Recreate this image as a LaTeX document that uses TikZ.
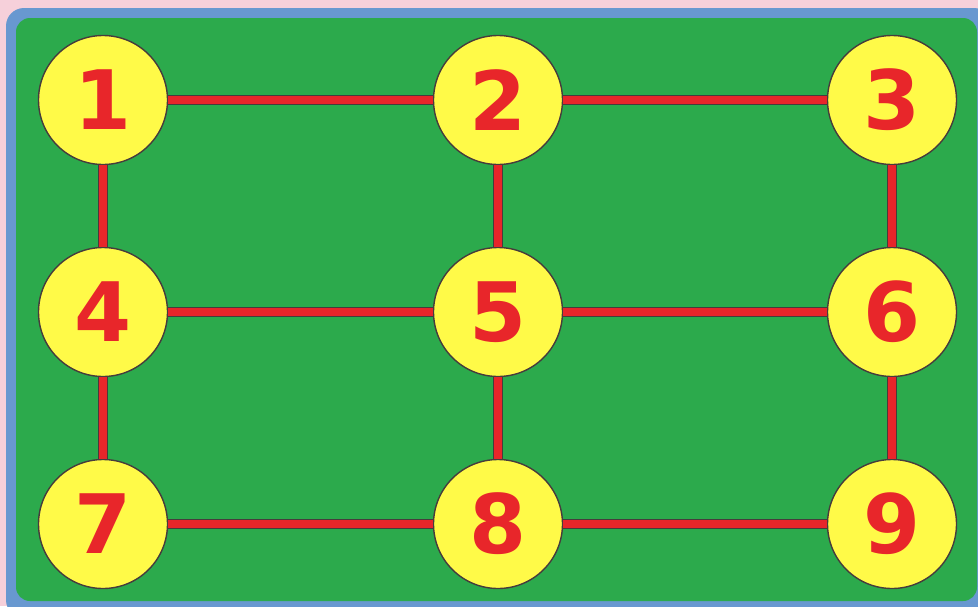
\documentclass[tikz,border=0pt]{standalone}
\usepackage{fontspec}
\newfontfamily\numfont{DejaVu Sans}
\definecolor{bgpink}{RGB}{246,208,218}
\definecolor{frameblue}{RGB}{104,152,208}
\definecolor{boardgreen}{RGB}{44,170,76}
\definecolor{discyellow}{RGB}{255,250,72}
\definecolor{numred}{RGB}{232,38,42}
\definecolor{edgedark}{RGB}{70,60,60}
\tikzset{
  disc/.style={circle, draw=edgedark, line width=1.4pt, fill=discyellow,
    minimum size=129pt, inner sep=0pt, text=numred,
    font=\numfont\bfseries\fontsize{82}{82}\selectfont},
  link/.style={draw=edgedark, line width=0.9pt, double=numred, double distance=7.5pt}
}
\begin{document}
\begin{tikzpicture}[x=1pt,y=-1pt]
\useasboundingbox (0,0) rectangle (978,606);
\fill[bgpink] (0,0) rectangle (978,606);
\fill[frameblue, rounded corners=18pt] (6,8) rectangle (992,618);
\fill[boardgreen, rounded corners=14pt] (16,18) rectangle (977,601);
\node[disc] (n1) at (103,100) {1};
\node[disc] (n2) at (498,100) {2};
\node[disc] (n3) at (892,100) {3};
\node[disc] (n4) at (103,312) {4};
\node[disc] (n5) at (498,312) {5};
\node[disc] (n6) at (892,312) {6};
\node[disc] (n7) at (103,524) {7};
\node[disc] (n8) at (498,524) {8};
\node[disc] (n9) at (892,524) {9};
\draw[link] (n1) -- (n2);
\draw[link] (n2) -- (n3);
\draw[link] (n4) -- (n5);
\draw[link] (n5) -- (n6);
\draw[link] (n7) -- (n8);
\draw[link] (n8) -- (n9);
\draw[link] (n1) -- (n4);
\draw[link] (n4) -- (n7);
\draw[link] (n2) -- (n5);
\draw[link] (n5) -- (n8);
\draw[link] (n3) -- (n6);
\draw[link] (n6) -- (n9);
\end{tikzpicture}
\end{document}
